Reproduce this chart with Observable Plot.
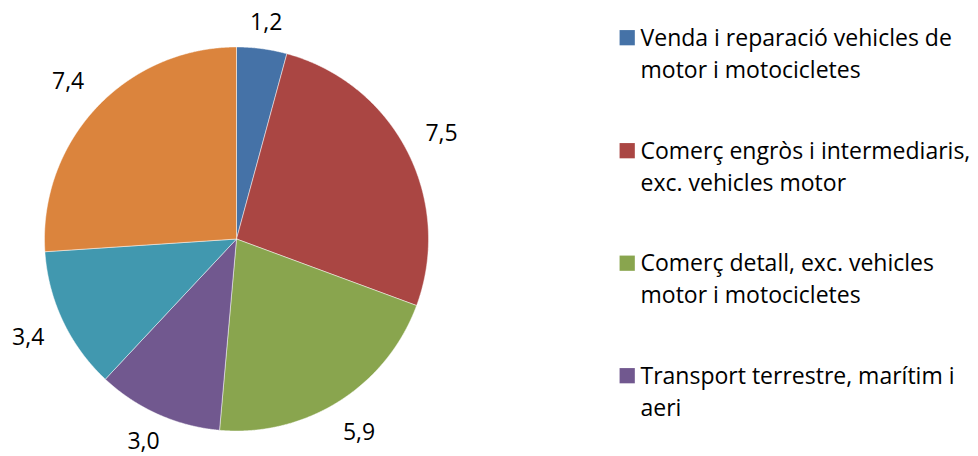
<!DOCTYPE html>
<html><head><meta charset="utf-8">
<script src="https://cdn.jsdelivr.net/npm/d3@7"></script>
<script src="https://cdn.jsdelivr.net/npm/@observablehq/plot@0.6"></script>
<style>html,body{margin:0;padding:0;background:#fff;}</style>
</head><body><div id="chart"></div>
<script>
// ---- data ----
const categories = [
  "Venda i reparació vehicles de motor i motocicletes",
  "Comerç engròs i intermediaris, exc. vehicles motor",
  "Comerç detall, exc. vehicles motor i motocicletes",
  "Transport terrestre, marítim i aeri",
  "Categoria 5",
  "Categoria 6"
];
const values = [1.2, 7.5, 5.9, 3.0, 3.4, 7.4];
const colors = ["#4572A7", "#AA4643", "#89A54E", "#71588F", "#4198AF", "#DB843D"];
// legend as shown (wrapped, only first four entries visible)
const legendLines = [
  ["Venda i reparació vehicles de", "motor i motocicletes"],
  ["Comerç engròs i intermediaris,", "exc. vehicles motor"],
  ["Comerç detall, exc. vehicles", "motor i motocicletes"],
  ["Transport terrestre, marítim i", "aeri"]
];

// ---- layout ----
const W = 978, H = 456;
const cx = 236, cy = 238.5, R = 192;
const FONT = "'Open Sans', 'Noto Sans', sans-serif";
const labelSize = 23, legendSize = 23, legendLH = 32;

// ---- geometry from data ----
const arcs = d3.pie().sort(null).value(d => d)(values);
const slicePts = [];
arcs.forEach((a, i) => {
  const cat = categories[i];
  slicePts.push({cat, x: 0, y: 0});
  const n = Math.max(2, Math.ceil((a.endAngle - a.startAngle) / 0.004));
  for (let k = 0; k <= n; k++) {
    const t = a.startAngle + (a.endAngle - a.startAngle) * k / n;
    slicePts.push({cat, x: Math.sin(t), y: Math.cos(t)});
  }
  slicePts.push({cat, x: 0, y: 0});
});
// labels kept inside the chart area
const yMax = (cy - 22) / R, yMin = -(441 - cy) / R;
const labels = arcs.map((a, i) => {
  const m = (a.startAngle + a.endAngle) / 2;
  const ext = Math.abs(Math.sin(m)) * 17 + Math.abs(Math.cos(m)) * 12;
  const d = (R + 18 + ext) / R;
  const y = Math.max(yMin, Math.min(yMax, Math.cos(m) * d));
  return {x: Math.sin(m) * d, y, text: values[i].toFixed(1).replace(".", ",")};
});

const legendBase1 = [45, 158, 270.5, 383];
const legendMarks = [];
legendLines.forEach((lines, i) => {
  legendMarks.push(Plot.dot([0], {
    frameAnchor: "top-left", dx: 626.7, dy: legendBase1[i] - 7.8,
    symbol: "square", r: 8.6, fill: colors[i], stroke: "none"
  }));
  legendMarks.push(Plot.text([lines.join("\n")], {
    frameAnchor: "top-left", dx: 640, dy: legendBase1[i] + (lines.length - 1) * legendLH,
    text: d => d, textAnchor: "start", lineAnchor: "bottom",
    lineHeight: legendLH / legendSize, fontSize: legendSize, fill: "#000"
  }));
});

const chart = Plot.plot({
  width: W, height: H, margin: 0,
  style: {fontFamily: FONT, background: "#fff", color: "#000", overflow: "visible"},
  x: {domain: [-1, 1], range: [cx - R, cx + R], axis: null},
  y: {domain: [-1, 1], range: [cy + R, cy - R], axis: null},
  color: {domain: categories, range: colors},
  marks: [
    Plot.line(slicePts, {x: "x", y: "y", z: "cat", fill: "cat", stroke: "#fff", strokeWidth: 0.6, strokeOpacity: 0.8}),
    Plot.text(labels, {x: "x", y: "y", text: "text", fontSize: labelSize, fill: "#000"}),
    ...legendMarks
  ]
});
document.getElementById("chart").appendChild(chart);
</script>
</body></html>
